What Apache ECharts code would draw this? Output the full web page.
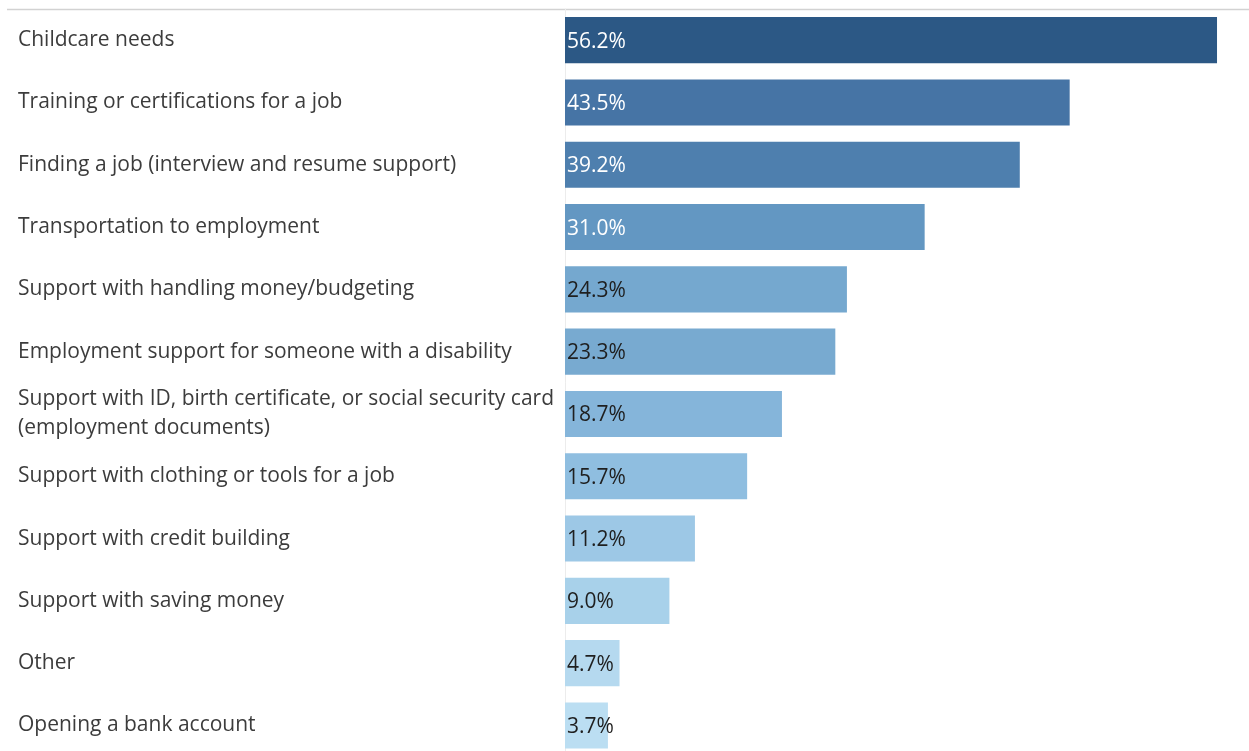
<!DOCTYPE html>
<html>
<head>
<meta charset="utf-8">
<script src="https://cdn.jsdelivr.net/npm/echarts@6/dist/echarts.min.js"></script>
<style>
  html, body { margin: 0; padding: 0; background: #ffffff; overflow: hidden; }
  #chart { width: 1249px; height: 762px; }
</style>
</head>
<body>
<div id="chart"></div>
<script>
// Employment support needs, share of respondents (%)
const categories = [
  'Childcare needs',
  'Training or certifications for a job',
  'Finding a job (interview and resume support)',
  'Transportation to employment',
  'Support with handling money/budgeting',
  'Employment support for someone with a disability',
  'Support with ID, birth certificate, or social security card\n(employment documents)',
  'Support with clothing or tools for a job',
  'Support with credit building',
  'Support with saving money',
  'Other',
  'Opening a bank account'
];
const values = [56.2, 43.5, 39.2, 31.0, 24.3, 23.3, 18.7, 15.7, 11.2, 9.0, 4.7, 3.7];
const barColors = [
  '#2C5885', '#4674A5', '#4E7FAE', '#6397C2', '#75A8CF', '#78AAD0',
  '#85B5DA', '#8FBEE0', '#9DC8E6', '#A8D1EA', '#B5D9EF', '#BBDEF2'
];
const labelColors = [
  '#ffffff', '#ffffff', '#ffffff', '#ffffff', '#1f1f1f', '#1f1f1f',
  '#1f1f1f', '#1f1f1f', '#1f1f1f', '#1f1f1f', '#1f1f1f', '#1f1f1f'
];

const chart = echarts.init(document.getElementById('chart'), null, { renderer: 'canvas' });

chart.setOption({
  animation: false,
  backgroundColor: '#ffffff',
  grid: { left: 565, top: 9, width: 672.9, height: 747.6, containLabel: false },
  xAxis: {
    type: 'value',
    min: 0,
    max: 58,
    show: false
  },
  yAxis: {
    type: 'category',
    data: categories,
    inverse: true,
    axisLine: { show: true, lineStyle: { color: '#ececec', width: 1 } },
    axisTick: { show: false },
    axisLabel: {
      align: 'left',
      margin: 547,
      color: '#3c3c3c',
      fontFamily: 'Open Sans',
      fontSize: 21,
      lineHeight: 29,
      padding: [3, 0, 0, 0]
    }
  },
  graphic: [
    {
      type: 'line',
      shape: { x1: 7, y1: 9.5, x2: 1249, y2: 9.5 },
      style: { stroke: '#d2d2d2', lineWidth: 1.5 },
      silent: true
    }
  ],
  series: [{
    type: 'bar',
    data: values.map((v, i) => ({
      value: v,
      itemStyle: { color: barColors[i] },
      label: { color: labelColors[i] }
    })),
    barCategoryGap: '26%',
    label: {
      show: true,
      position: 'insideLeft',
      distance: 2,
      offset: [0, 1.5],
      fontFamily: 'Open Sans',
      fontSize: 21,
      formatter: p => p.value.toFixed(1) + '%'
    }
  }]
});
</script>
</body>
</html>
